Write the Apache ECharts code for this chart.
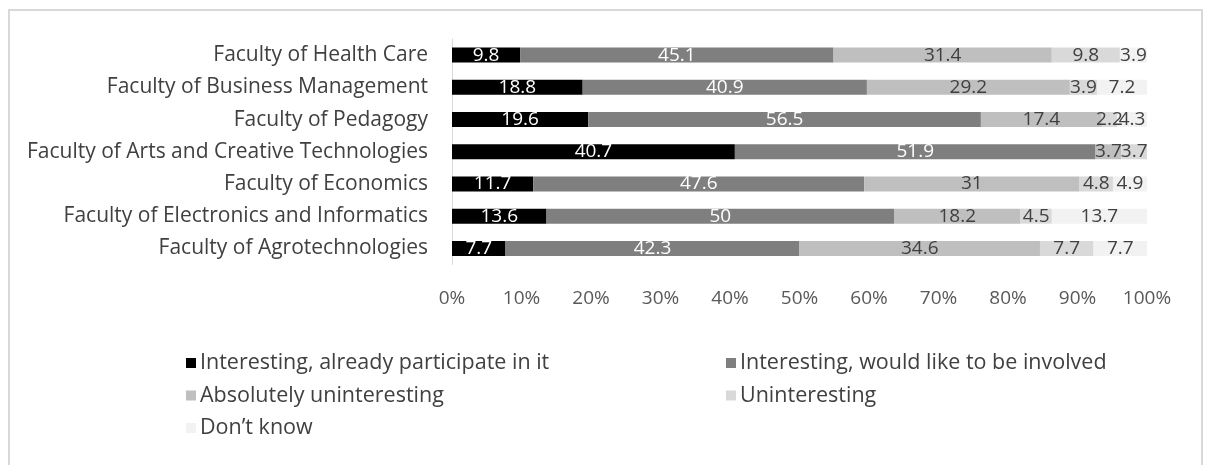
<!DOCTYPE html>
<html>
<head>
<meta charset="utf-8">
<script src="https://cdn.jsdelivr.net/npm/echarts@6/dist/echarts.min.js"></script>
<style>
html,body{margin:0;padding:0;background:#fff;}
#chart{width:1209px;height:465px;}
</style>
</head>
<body>
<div id="chart"></div>
<script>
const categories = [
  'Faculty of Health Care',
  'Faculty of Business Management',
  'Faculty of Pedagogy',
  'Faculty of Arts and Creative Technologies',
  'Faculty of Economics',
  'Faculty of Electronics and Informatics',
  'Faculty of Agrotechnologies'
];
const seriesNames = [
  'Interesting, already participate in it',
  'Interesting, would like to be involved',
  'Absolutely uninteresting',
  'Uninteresting',
  'Don\u2019t know'
];
const alreadyParticipate = [9.8, 18.8, 19.6, 40.7, 11.7, 13.6, 7.7];
const wouldLikeInvolved = [45.1, 40.9, 56.5, 51.9, 47.6, 50, 42.3];
const absolutelyUninteresting = [31.4, 29.2, 17.4, 3.7, 31, 18.2, 34.6];
const uninteresting = [9.8, 3.9, 2.2, 3.7, 4.8, 4.5, 7.7];
const dontKnow = [3.9, 7.2, 4.3, 0, 4.9, 13.7, 7.7];
const xTickLabels = ['0%','10%','20%','30%','40%','50%','60%','70%','80%','90%','100%'];

const seriesData = [alreadyParticipate, wouldLikeInvolved, absolutelyUninteresting, uninteresting, dontKnow];
const colors = ['#000000', '#7f7f7f', '#bfbfbf', '#d9d9d9', '#f2f2f2'];
const labelColors = ['#ffffff', '#ffffff', '#404040', '#404040', '#404040'];

const chart = echarts.init(document.getElementById('chart'));
const textFont = '"Open Sans", "Noto Sans", sans-serif';

const series = seriesNames.map((name, i) => ({
  name: name,
  type: 'bar',
  stack: 'total',
  barWidth: 15,
  data: seriesData[i],
  itemStyle: { color: colors[i] },
  label: {
    show: true,
    position: 'inside',
    color: labelColors[i],
    fontFamily: textFont,
    fontSize: 19,
    formatter: p => (p.value ? String(p.value) : '')
  },
  emphasis: { disabled: true }
}));

const legendText = { color: '#404040', fontFamily: textFont, fontSize: 21.5, lineHeight: 22, padding: [0, 0, 0, -1] };

chart.setOption({
  animation: false,
  backgroundColor: '#ffffff',
  graphic: [{
    type: 'rect',
    shape: { x: 9, y: 10, width: 1193, height: 520 },
    style: { fill: 'none', stroke: '#d9d9d9', lineWidth: 2 },
    silent: true
  }],
  grid: { left: 452, right: 62, top: 39, bottom: 200.5, containLabel: false },
  xAxis: {
    type: 'value',
    min: 0,
    max: 100,
    interval: 10,
    axisLine: { show: false },
    axisTick: { show: false },
    splitLine: { show: false },
    axisLabel: {
      margin: 25,
      color: '#595959',
      fontFamily: textFont,
      fontSize: 19,
      formatter: v => xTickLabels[Math.round(v / 10)]
    }
  },
  yAxis: {
    type: 'category',
    data: categories,
    inverse: true,
    axisLine: { show: true, lineStyle: { color: '#d9d9d9', width: 1 } },
    axisTick: { show: false },
    axisLabel: {
      margin: 24,
      color: '#404040',
      fontFamily: textFont,
      fontSize: 21
    }
  },
  legend: [
    {
      data: [seriesNames[0], seriesNames[2], seriesNames[4]],
      orient: 'vertical',
      left: 181,
      top: 347,
      itemWidth: 10,
      itemHeight: 10,
      itemGap: 10.5,
      icon: 'rect',
      selectedMode: false,
      textStyle: legendText
    },
    {
      data: [seriesNames[1], seriesNames[3]],
      orient: 'vertical',
      left: 721,
      top: 347,
      itemWidth: 10,
      itemHeight: 10,
      itemGap: 10.5,
      icon: 'rect',
      selectedMode: false,
      textStyle: legendText
    }
  ],
  series: series
});
</script>
</body>
</html>
